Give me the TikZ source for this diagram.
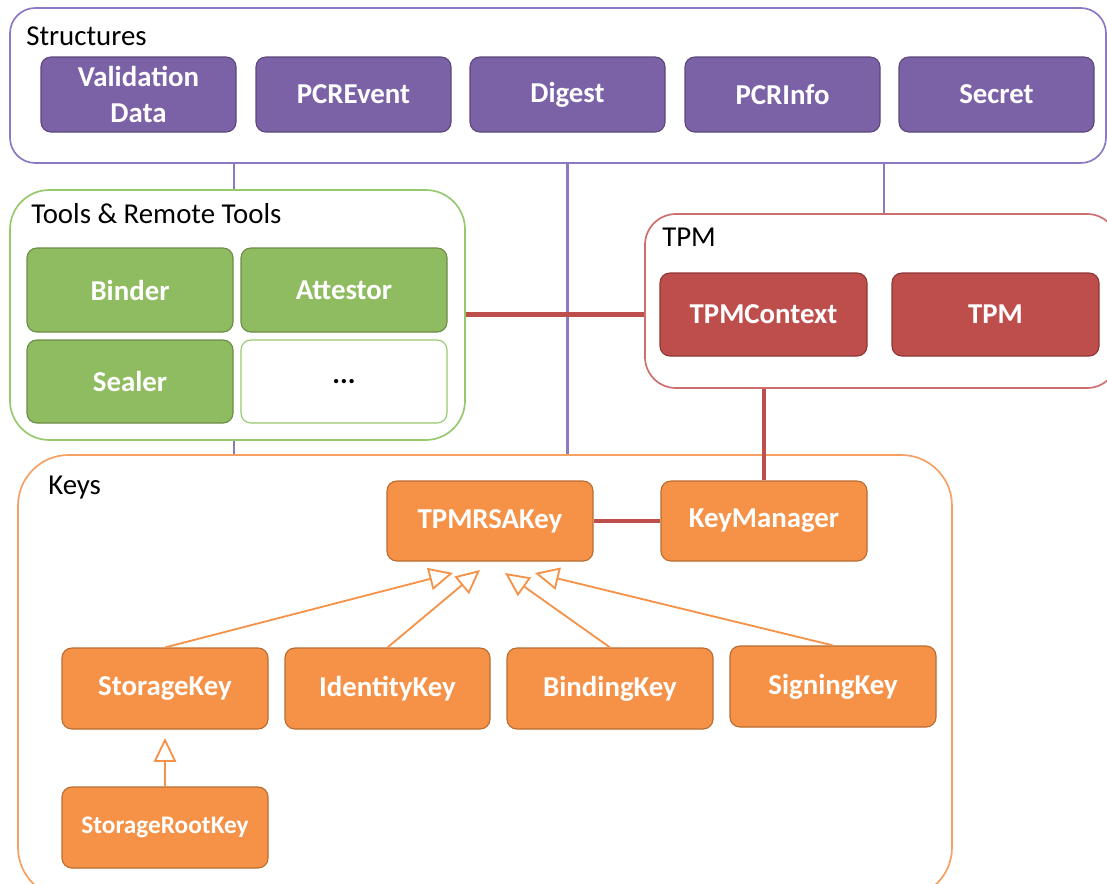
\documentclass[tikz,border=0pt]{standalone}
\usepackage{fontspec}
\setmainfont{Carlito}
\usetikzlibrary{fit}
\usetikzlibrary{arrows.meta}
\definecolor{pfill}{RGB}{123,97,166}
\definecolor{pdraw}{RGB}{92,72,122}
\definecolor{pframe}{RGB}{140,120,195}
\definecolor{gfill}{RGB}{143,188,96}
\definecolor{gdraw}{RGB}{108,140,70}
\definecolor{gframe}{RGB}{150,200,110}
\definecolor{rfill}{RGB}{190,78,76}
\definecolor{rdraw}{RGB}{140,56,54}
\definecolor{rframe}{RGB}{205,110,110}
\definecolor{ofill}{RGB}{246,146,72}
\definecolor{odraw}{RGB}{184,108,48}
\definecolor{oframe}{RGB}{247,160,100}

\begin{document}
\begin{tikzpicture}[x=0.025cm,y=-0.025cm,
    box/.style={draw,rounded corners=7pt,inner sep=0pt,line width=0.8pt},
    boxtext/.style={text=white,align=center,font=\bfseries\fontsize{20.5}{25}\selectfont},
    pbox/.style={box,fill=pfill,draw=pdraw},
    gbox/.style={box,fill=gfill,draw=gdraw},
    rbox/.style={box,fill=rfill,draw=rdraw},
    obox/.style={box,fill=ofill,draw=odraw},
    frame/.style={draw,inner sep=0pt,line width=1.2pt},
    title/.style={anchor=west,inner sep=0pt,font=\fontsize{20.5}{24}\selectfont},
    plink/.style={draw=pframe,line width=1.6pt},
    rlink/.style={draw=rfill,line width=2.4pt},
    isa/.style={draw=ofill,line width=1.3pt,-{Triangle[open,length=17pt,width=16pt]}}]
  \useasboundingbox (0,0) rectangle (1107,883);
  \clip (0,0) rectangle (1107,883);

  % group frames
  \node[frame,draw=pframe,rounded corners=18pt,fit={(10,8) (1106,163)}] (structs) {};
  \node[frame,draw=gframe,rounded corners=28pt,fit={(10,190) (465,440)}] (tools) {};
  \node[frame,draw=rframe,rounded corners=22pt,fit={(645,214) (1118,388)}] (tpmgrp) {};
  \node[frame,draw=oframe,rounded corners=36pt,fit={(18,455) (952,898)}] (keys) {};
  \node[title] at (26,36) {Structures};
  \node[title] at (31,214) {Tools \& Remote Tools};
  \node[title] at (662,237) {TPM};
  \node[title] at (48,488) {Keys};

  % structures
  \node[pbox,fit={(41,57) (236,132)},label={[boxtext]center:{Validation\\Data}}] (vd) {};
  \node[pbox,fit={(256,57) (451,132)},label={[boxtext]center:PCREvent}] (pcrev) {};
  \node[pbox,fit={(470,57) (665,132)},label={[boxtext]center:Digest}] (dig) {};
  \node[pbox,fit={(685,57) (880,132)},label={[boxtext]center:PCRInfo}] (pcrinfo) {};
  \node[pbox,fit={(899,57) (1094,132)},label={[boxtext]center:Secret}] (secret) {};

  % tools
  \node[gbox,fit={(27,248) (233,332)},label={[boxtext]center:Binder}] (binder) {};
  \node[gbox,fit={(241,248) (447,332)},label={[boxtext]center:Attestor}] (attest) {};
  \node[gbox,fit={(27,340) (233,423)},label={[boxtext]center:Sealer}] (sealer) {};
  \node[box,draw=gframe,fit={(241,340) (447,423)},label={[boxtext,text=black]center:...}] (more) {};

  % tpm
  \node[rbox,fit={(660,273) (867,356)},label={[boxtext]center:TPMContext}] (tpmctx) {};
  \node[rbox,fit={(892,273) (1099,356)},label={[boxtext]center:TPM}] (tpm) {};

  % keys
  \node[obox,fit={(387,481) (593,561)},label={[boxtext]center:TPMRSAKey}] (rsa) {};
  \node[obox,fit={(661,481) (867,561)},label={[boxtext]center:KeyManager}] (km) {};
  \node[obox,fit={(62,648) (268,729)},label={[boxtext]center:StorageKey}] (sk) {};
  \node[obox,fit={(285,648) (490,729)},label={[boxtext]center:IdentityKey}] (ik) {};
  \node[obox,fit={(507,648) (713,729)},label={[boxtext]center:BindingKey}] (bk) {};
  \node[obox,fit={(730,646) (936,727)},label={[boxtext]center:SigningKey}] (sgk) {};
  \node[obox,fit={(62,787) (268,868)},
    label={[boxtext,font=\bfseries\fontsize{18}{22}\selectfont]center:StorageRootKey}] (srk) {};

  % links
  \coordinate (cl) at (234,0);
  \coordinate (cr) at (884,0);
  \draw[plink] (structs.south -| cl) -- (tools.north -| cl);
  \draw[plink] (tools.south -| cl) -- (keys.north -| cl);
  \draw[plink] (structs.south -| dig) -- (keys.north -| dig);
  \draw[plink] (structs.south -| cr) -- (tpmgrp.north -| cr);
  \draw[rlink,line width=3.4pt] (tools.east |- tpmctx) -- (tpmgrp.west |- tpmctx);
  \draw[rlink] (tpmgrp.south -| km) -- (km.north);
  \draw[rlink] (rsa) -- (km);

  % inheritance
  \coordinate (t1) at (453,573);
  \coordinate (t2) at (480,570);
  \coordinate (t3) at (505,573);
  \coordinate (t4) at (535,573);
  \draw[isa] (sk.north) -- (t1);
  \draw[isa] (ik.north) -- (t2);
  \draw[isa] (bk.north) -- (t3);
  \draw[isa] (sgk.north) -- (t4);
  \draw[isa] (srk.north) -- ([yshift=-6pt]sk.south);
\end{tikzpicture}
\end{document}
